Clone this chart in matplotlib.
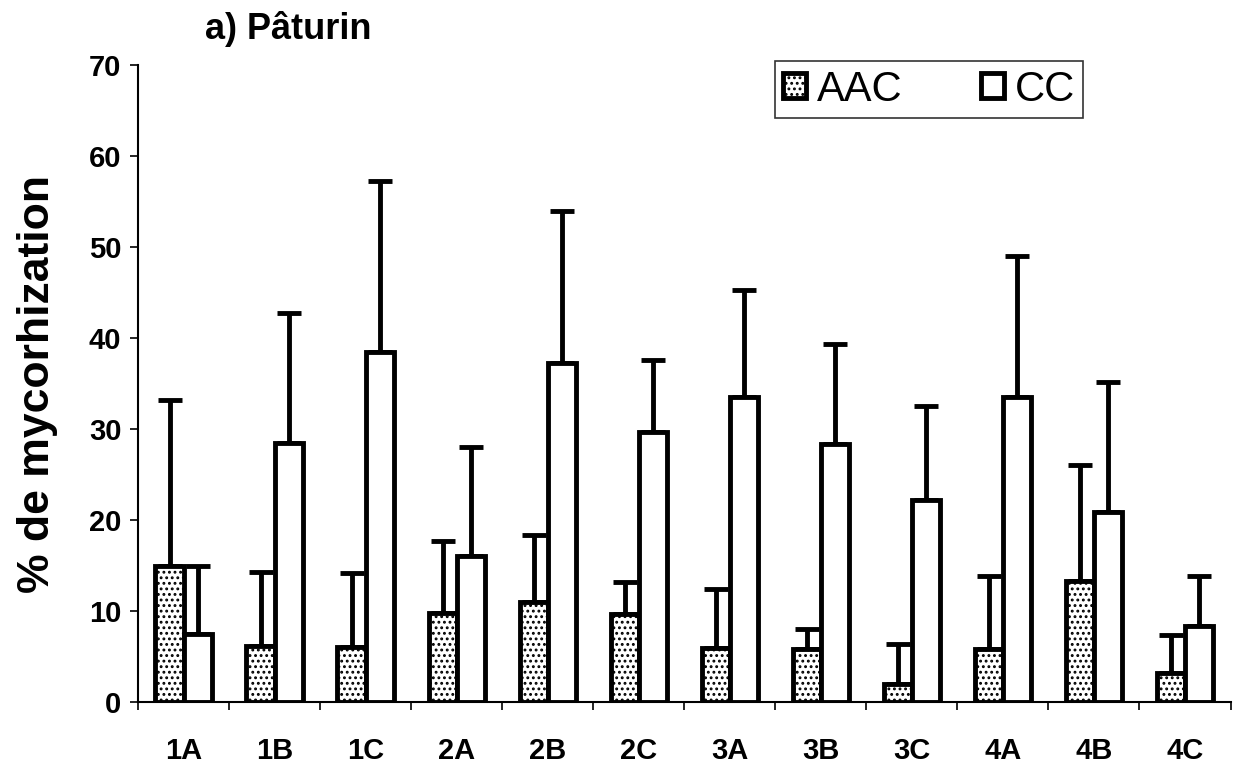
import matplotlib
matplotlib.use('Agg')
import matplotlib.pyplot as plt
import numpy as np

plt.rcParams['font.family'] = ['Liberation Sans', 'DejaVu Sans']
plt.rcParams['hatch.linewidth'] = 1.3

# traitements et valeurs (% de mycorhization)
categories = ['1A', '1B', '1C', '2A', '2B', '2C', '3A', '3B', '3C', '4A', '4B', '4C']
aac = [15.0, 6.2, 6.0, 9.8, 11.0, 9.7, 5.9, 5.8, 2.0, 5.8, 13.3, 3.2]
aac_err = [18.2, 8.1, 8.2, 7.9, 7.4, 3.5, 6.5, 2.2, 4.4, 8.1, 12.8, 4.2]
cc = [7.5, 28.5, 38.5, 16.0, 37.3, 29.7, 33.5, 28.4, 22.2, 33.5, 20.9, 8.4]
cc_err = [7.5, 14.3, 18.8, 12.0, 16.7, 7.9, 11.8, 10.9, 10.3, 15.5, 14.3, 5.5]

x = np.arange(len(categories))
w = 0.31

fig = plt.figure(figsize=(12.33, 7.71), dpi=100)
ax = fig.add_axes([0.112, 0.0895, 0.886, 0.826])

# barres AAC (pointillées) et CC (blanches), barres d'erreur vers le haut
ax.bar(x - w/2, aac, w, color='white', edgecolor='black', linewidth=3.5,
       hatch='...', label='AAC', zorder=2)
ax.bar(x + w/2, cc, w, color='white', edgecolor='black', linewidth=3.5,
       label='CC', zorder=2)
ax.errorbar(x - w/2, aac, yerr=[np.zeros(len(aac)), aac_err], fmt='none',
            ecolor='black', elinewidth=3.5, capsize=8.5, capthick=3.5, zorder=1)
ax.errorbar(x + w/2, cc, yerr=[np.zeros(len(cc)), cc_err], fmt='none',
            ecolor='black', elinewidth=3.5, capsize=8.5, capthick=3.5, zorder=1)

ax.set_xlim(-0.5, len(categories) - 0.5)
ax.set_ylim(0, 70)
ax.set_yticks(np.arange(0, 71, 10))
ax.set_xticks(x)
ax.set_xticklabels(categories, fontsize=21, fontweight='bold',
                   family=['Liberation Sans Narrow', 'Liberation Sans'])
ax.tick_params(axis='x', length=0, pad=25)
ax.set_xticks(np.arange(-0.5, len(categories)), minor=True)
ax.tick_params(axis='x', which='minor', length=6, width=1.2)
ax.tick_params(axis='y', length=6, width=1.2, labelsize=21, pad=6)
for lab in ax.get_yticklabels():
    lab.set_fontweight('bold')

ax.spines['top'].set_visible(False)
ax.spines['right'].set_visible(False)
ax.spines['left'].set_linewidth(1.5)
ax.spines['bottom'].set_linewidth(1.5)

ax.set_ylabel('% de mycorhization', fontsize=32, fontweight='bold', labelpad=22)
fig.text(0.166, 0.962, 'a) Pâturin', fontsize=26, fontweight='bold', va='center')

leg = ax.legend(loc='upper left', bbox_to_anchor=(0.583, 1.006), ncol=2,
                fontsize=30, frameon=True, fancybox=False, edgecolor='black',
                handlelength=0.55, handleheight=0.55, handletextpad=0.25,
                columnspacing=1.9, borderpad=0.2, borderaxespad=0)
leg.get_frame().set_linewidth(1.2)

fig.savefig('out.png', dpi=100)
